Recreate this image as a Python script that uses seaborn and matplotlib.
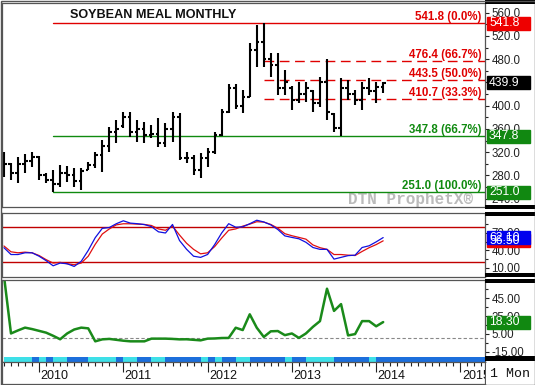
from __future__ import annotations

import matplotlib

matplotlib.use("Agg")
import matplotlib.pyplot as plt
import matplotlib.transforms as mtransforms
import pandas as pd
import seaborn as sns
from matplotlib.patches import Rectangle
from matplotlib.ticker import FixedLocator, FuncFormatter

W, H = 535, 385

# monthly bars, Aug 2009 .. Feb 2014
months = pd.date_range("2009-08-01", periods=55, freq="MS")
price_open = [290, 300, 285, 300, 305, 312, 280, 272, 265, 285, 280, 270, 290, 298, 315,
              330, 355, 365, 380, 355, 360, 350, 352, 335, 360, 380, 310, 310, 290, 310,
              320, 350, 390, 430, 400, 415, 495, 510, 480, 470, 430, 430, 410, 420, 425,
              405, 440, 385, 362, 430, 420, 410, 430, 425, 432]
price_high = [320, 301, 312, 317, 320, 313, 284, 289, 298, 296, 293, 293, 303, 320, 341,
              363, 375, 389, 389, 375, 372, 367, 379, 370, 389, 387, 320, 315, 319, 327,
              355, 394, 437, 437, 427, 508, 539, 541.8, 491, 491, 462, 434, 441, 441, 427,
              449, 480, 387, 448, 444, 427, 441, 448, 441, 441]
price_low = [277, 272, 267, 284, 295, 272, 267, 251.0, 260, 269, 260, 255, 289, 293, 286,
             320, 336, 362, 346, 338, 336, 344, 329, 329, 338, 307, 302, 281, 276, 295,
             317, 348, 387, 394, 387, 415, 467, 467, 449, 418, 418, 393, 405, 406, 389,
             398, 375, 355, 347.8, 410, 401, 393, 418, 405, 422]
price_close = [300, 285, 300, 305, 312, 280, 272, 265, 285, 280, 270, 288, 298, 315, 330,
               355, 360, 380, 355, 360, 350, 352, 335, 360, 380, 310, 310, 290, 310, 320,
               350, 390, 430, 400, 415, 495, 510, 480, 470, 430, 440, 410, 420, 430, 405,
               440, 390, 362, 430, 420, 410, 430, 425, 432, 439.9]

stoch_k = [44.7, 32.9, 32.9, 35.9, 35.9, 30.0, 22.4, 13.5, 18.2, 17.0, 12.4, 21.2, 40.0,
           62.0, 78.0, 79.4, 86.0, 91.0, 87.0, 86.0, 84.5, 81.0, 72.0, 70.0, 84.7, 57.0,
           42.0, 30.0, 28.0, 33.0, 50.0, 70.0, 86.0, 80.0, 80.6, 85.9, 92.0, 89.0, 84.0,
           76.0, 65.0, 62.4, 60.0, 54.0, 45.0, 41.8, 41.8, 25.0, 28.0, 31.0, 31.8, 45.0,
           48.0, 54.7, 62.1]
stoch_d = [47.6, 37.6, 35.9, 37.0, 35.9, 31.2, 24.1, 18.2, 19.4, 17.0, 15.3, 18.2, 30.0,
           50.6, 68.2, 77.0, 84.0, 85.9, 85.9, 85.3, 84.7, 82.9, 77.0, 74.7, 81.8, 66.5,
           52.4, 41.8, 34.1, 35.9, 46.5, 61.2, 74.7, 77.0, 81.8, 85.3, 89.4, 88.8, 84.7,
           78.2, 68.8, 65.3, 62.4, 59.4, 49.4, 44.7, 41.8, 32.9, 32.9, 31.8, 31.2, 38.2,
           44.7, 50.0, 56.5]
momentum = [70.0, 5.6, 9.0, 12.1, 10.5, 8.5, 6.5, 3.0, -0.9, 5.6, 10.0, 12.1, 11.3, -3.2,
            -1.0, -0.5, -1.5, -2.5, -3.2, -3.2, -3.2, -0.2, -0.2, -0.2, -0.5, -1.0, -0.9,
            -1.5, -2.1, -0.2, 0.0, 0.5, 0.6, 12.0, 9.4, 27.0, 12.0, 1.7, 8.0, 8.3, 3.7, 5.6,
            0.6, 5.6, 13.0, 19.4, 55.6, 30.8, 38.4, 3.4, 4.9, 19.4, 19.4, 13.6, 18.3]

# 1 = cyan, 0 = blue, one cell per month
trend_strip = [1, 1, 1, 1, 0, 1, 0, 1, 1, 0, 0, 0, 1, 1, 1, 1, 0, 1, 1, 0, 0, 1, 1, 0,
               0, 0, 0, 0, 1, 0, 1, 0, 0, 1, 1, 0, 0, 0, 0, 0, 1, 0, 0, 1, 1, 1, 1, 0,
               0, 0, 0, 0, 1, 0, 0, 0, 0, 0, 0, 0, 0, 0, 0, 0, 0, 0, 0, 0, 0]

fib_levels = [541.8, 476.4, 443.5, 410.7, 347.8, 251.0]
fib_labels = ["541.8 (0.0%)", "476.4 (66.7%)", "443.5 (50.0%)", "410.7 (33.3%)",
              "347.8 (66.7%)", "251.0 (100.0%)"]
fib_colors = ["#e00000", "#e00000", "#e00000", "#e00000", "#108a10", "#108a10"]
fib_dashed = [False, True, True, True, False, False]

years = [2010, 2011, 2012, 2013, 2014, 2015]


def px_axes(fig, x0, y0, x1, y1):
    return fig.add_axes([x0 / W, 1 - y1 / H, (x1 - x0) / W, (y1 - y0) / H])


def fig_rect(fig, x0, y0, x1, y1, color, z=5):
    fig.patches.append(Rectangle((x0 / W, 1 - y1 / H), (x1 - x0) / W, (y1 - y0) / H,
                                 transform=fig.transFigure, color=color, lw=0, zorder=z))


def value_box(fig, ax, value, text, color):
    y_frac = ax.transData.transform((0, value))[1] / (H * 1.0)
    fig.patches.append(Rectangle((487 / W, y_frac - 6.5 / H), 43 / W, 13 / H,
                                 transform=fig.transFigure, color=color, zorder=6))
    fig.text(489 / W, y_frac, text, color="white", fontsize=8.7, va="center", ha="left",
             zorder=7)


def style_right_axis(a, major, minor, fmt):
    a.yaxis.tick_right()
    a.set_yticks(major)
    a.yaxis.set_minor_locator(FixedLocator(minor))
    a.yaxis.set_major_formatter(FuncFormatter(lambda v, p: fmt.format(v)))
    a.tick_params(axis="y", which="major", length=3, width=0.8, pad=1.5, labelsize=8.3,
                  labelcolor="#222222", color="#222222", right=True)
    a.tick_params(axis="y", which="minor", length=2, width=0.8, color="#222222", right=True)


def main() -> None:
    sns.set_theme(style="white")
    plt.rcParams["font.family"] = ["Liberation Sans", "DejaVu Sans"]

    fig = plt.figure(figsize=(W / 100, H / 100), dpi=100)
    fig.patch.set_facecolor("white")

    idx = list(range(len(months)))
    xlim = (-0.28, 68.5)

    ax = px_axes(fig, 2, 3, 485, 207)
    ax_st = px_axes(fig, 2, 212.5, 485, 277.4)
    ax_lo = px_axes(fig, 2, 279.5, 485, 362)
    ax_dt = px_axes(fig, 2, 362, 485, 384)

    # price panel: OHLC bars
    ax.vlines(idx, price_low, price_high, color="black", lw=1.5)
    ax.hlines(price_open, [i - 0.38 for i in idx], idx, color="black", lw=1.5)
    ax.hlines(price_close, idx, [i + 0.38 for i in idx], color="black", lw=1.5)

    i_low = price_low.index(min(price_low))
    i_high = price_high.index(max(price_high))
    tr = mtransforms.blended_transform_factory(ax.transAxes, ax.transData)
    for lvl, lab, col, dashed in zip(fib_levels, fib_labels, fib_colors, fib_dashed):
        start = i_high if dashed else i_low
        ax.plot([start, xlim[1]], [lvl, lvl], color=col, lw=1.0,
                ls=(0, (7, 4)) if dashed else "-", zorder=1)
        ax.text(0.9935, lvl + 0.8, lab, transform=tr, color=col, fontsize=8.3,
                fontweight="bold", ha="right", va="bottom", zorder=3)

    ax.set_xlim(*xlim)
    ax.set_ylim(225.7, 576.7)
    ax.set_xticks([])
    style_right_axis(ax, list(range(240, 561, 40)), list(range(260, 561, 40)), "{:.1f}")

    fig.text(70 / W, 1 - 15.5 / H, "SOYBEAN MEAL MONTHLY", fontsize=9.1, fontweight="bold",
             color="#111111", va="center", ha="left")
    ax.text(0.975, 0.035, "DTN ProphetX®", transform=ax.transAxes, ha="right", va="center",
            fontsize=11.5, fontweight="bold", color="#bbbbbb",
            family=["Liberation Mono", "DejaVu Sans Mono"], zorder=0)

    # stochastic panel
    st = pd.DataFrame({"i": idx, "k": stoch_k, "d": stoch_d})
    ax_st.axhline(80, color="#c00000", lw=1.0)
    ax_st.axhline(20, color="#c00000", lw=1.0)
    sns.lineplot(data=st, x="i", y="d", color="#e01010", lw=0.9, ax=ax_st)
    sns.lineplot(data=st, x="i", y="k", color="#1010e0", lw=0.9, ax=ax_st)
    ax_st.set_xlim(*xlim)
    ax_st.set_ylim(-6.5, 105.3)
    ax_st.set_xticks([])
    ax_st.set_xlabel("")
    ax_st.set_ylabel("")
    style_right_axis(ax_st, [10, 40, 70], [25, 55, 85], "{:.2f}")

    # lower panel
    lo = pd.DataFrame({"i": idx, "v": momentum})
    ax_lo.axhline(0, color="#888888", lw=0.8, ls=(0, (3, 2)))
    sns.lineplot(data=lo, x="i", y="v", color="#1a8a1a", lw=1.8, ax=ax_lo)
    strip_tr = mtransforms.blended_transform_factory(ax_lo.transData, ax_lo.transAxes)
    for i, s in enumerate(trend_strip):
        ax_lo.add_patch(Rectangle((i, 0), 1, 0.055, transform=strip_tr, lw=0,
                                  color="#3ee0e8" if s else "#1c6fdc", zorder=4, clip_on=True))
    ax_lo.set_xlim(*xlim)
    ax_lo.set_ylim(-26.3, 65.9)
    ax_lo.set_xticks([])
    ax_lo.set_xlabel("")
    ax_lo.set_ylabel("")
    style_right_axis(ax_lo, [-15, 5, 25, 45], [-5, 15, 35, 55], "{:.2f}")

    # date band
    ax_dt.set_xlim(*xlim)
    ax_dt.set_ylim(0, 1)
    ax_dt.set_yticks([])
    ax_dt.xaxis.tick_top()
    month_pos = list(range(int(xlim[1]) + 1))
    year_pos = [(y - months[0].year) * 12 + 1 - months[0].month for y in years]
    ax_dt.set_xticks(year_pos)
    ax_dt.set_xticklabels([])
    ax_dt.xaxis.set_minor_locator(FixedLocator(month_pos))
    ax_dt.tick_params(axis="x", which="major", direction="in", length=7, width=0.8, color="#222222")
    ax_dt.tick_params(axis="x", which="minor", direction="in", length=3, width=0.8, color="#222222")
    for y, p in zip(years, year_pos):
        t = ax_dt.text(p + 0.2, 0.38, str(y), fontsize=9, color="#111111", ha="left",
                       va="center", clip_on=True)
        t.set_clip_box(ax_dt.bbox)

    for a in (ax, ax_st, ax_lo, ax_dt):
        for sp in a.spines.values():
            sp.set_linewidth(0.9)
            sp.set_color("#555555")

    # right-hand scale decorations
    fig_rect(fig, 485.6, 362.5, 534.5, 384, "white", z=4)
    fig.text(510 / W, 1 - 374 / H, "1 Mon", fontsize=9.5, color="#111111", ha="center",
             va="center", family=["Liberation Mono", "DejaVu Sans Mono"], zorder=6)
    for y0, y1 in [(0, 4), (205, 209), (212, 216), (273, 277), (279, 283), (356, 361)]:
        fig_rect(fig, 485, y0, 535, y1, "black")
    fig.patches.append(Rectangle((0.5 / W, 0.5 / H), (W - 1) / W, (H - 1) / H,
                                 transform=fig.transFigure, fill=False, ec="#555555",
                                 lw=1.0, zorder=8))

    value_box(fig, ax, fib_levels[0], f"{fib_levels[0]:.1f}", "#ee0000")
    value_box(fig, ax, price_close[-1], f"{price_close[-1]:.1f}", "black")
    value_box(fig, ax, fib_levels[4], f"{fib_levels[4]:.1f}", "#118811")
    value_box(fig, ax, fib_levels[5], f"{fib_levels[5]:.1f}", "#118811")
    value_box(fig, ax_st, stoch_d[-1], f"{stoch_d[-1]:.2f}", "#ee0000")
    value_box(fig, ax_st, stoch_k[-1], f"{stoch_k[-1]:.2f}", "#0000ee")
    value_box(fig, ax_lo, momentum[-1], f"{momentum[-1]:.2f}", "#118811")

    fig.savefig("out.png", dpi=100)
    plt.close(fig)


if __name__ == "__main__":
    main()
